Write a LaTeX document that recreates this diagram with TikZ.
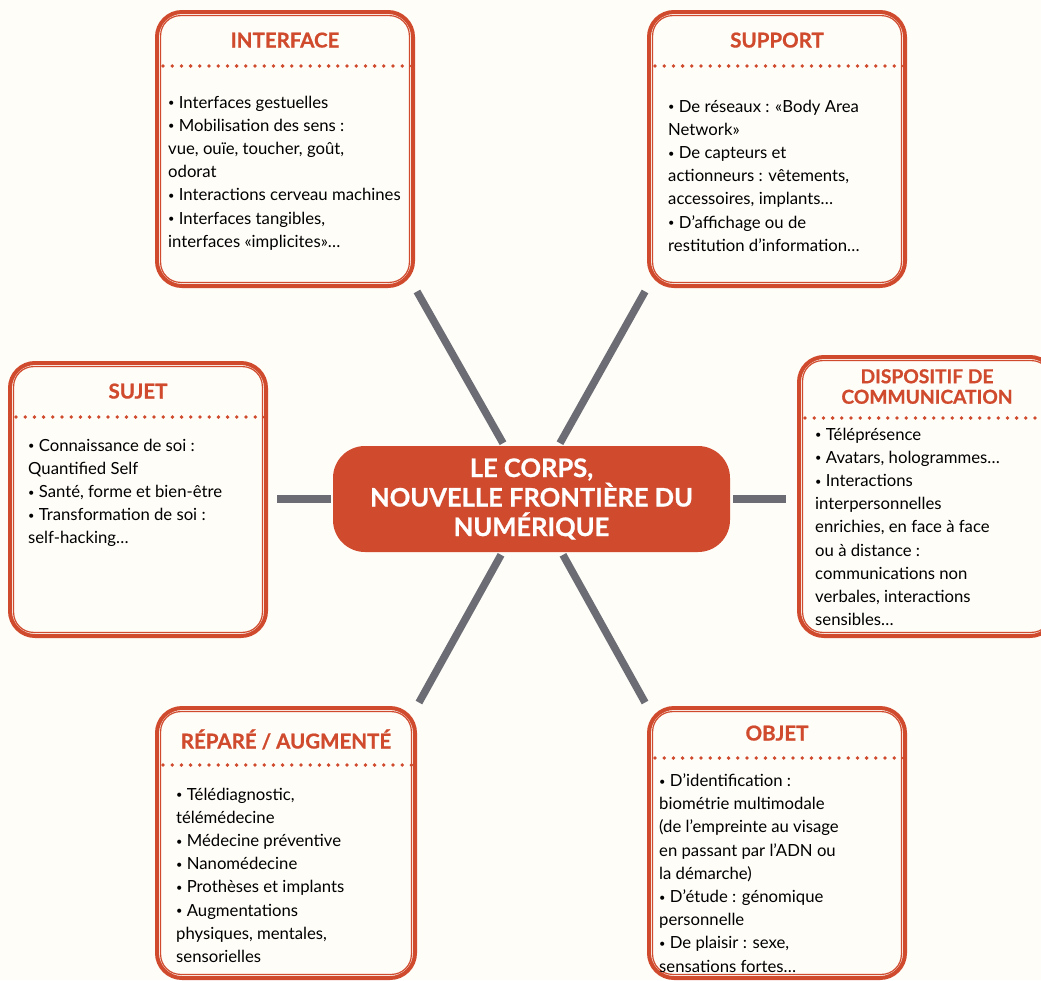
\documentclass[tikz,border=0pt]{standalone}
\usepackage{fontspec}
\setmainfont{Lato}
\newfontfamily\grasfont{Lato}[BoldFeatures={FakeBold=0.8}]
\usetikzlibrary{positioning,calc}
\definecolor{CorpsRouge}{RGB}{208,74,45}
\definecolor{CorpsGris}{RGB}{108,108,116}
\definecolor{CorpsFond}{RGB}{254,253,248}
\newcommand\puce{\raisebox{1.3pt}{\fontsize{11}{11}\selectfont •}}

\begin{document}
\begin{tikzpicture}[x=1pt, y=1pt]
\tikzset{
  boite/.style={
    shape=rectangle,
    draw=CorpsRouge,
    line width=4pt,
    rounded corners=25pt,
    minimum width=256pt,
    minimum height=274pt,
    inner sep=0pt
  },
  boiteint/.style={draw=CorpsRouge, line width=1.2pt, rounded corners=20pt},
  pointille/.style={
    draw=CorpsRouge,
    line width=3.8pt,
    line cap=round,
    dash pattern=on 0pt off 9.2pt
  },
  titre/.style={
    inner sep=0pt,
    align=center,
    text=CorpsRouge,
    font=\fontsize{20.5}{20.5}\grasfont\bfseries
  },
  corps/.style={
    inner sep=0pt,
    align=left,
    anchor=north west,
    text=black,
    font=\fontsize{16.7}{23.2}\selectfont
  },
  centre/.style={
    shape=rectangle,
    fill=CorpsRouge,
    rounded corners=32pt,
    minimum width=397pt,
    minimum height=106pt,
    align=center,
    text=white,
    font=\fontsize{25.5}{29.5}\grasfont\bfseries
  },
  lien/.style={draw=CorpsGris, line width=7.5pt}
}

% fond et cadre
\fill[CorpsFond] (0,0) rectangle (1041,-980);
\useasboundingbox (0,0) rectangle (1041,-980);

% noeud central
\node[centre] (corps) at (531.5,-499) {LE CORPS,\\NOUVELLE FRONTIÈRE DU\\NUMÉRIQUE};

% boites
\node[boite] (interface) at (285,-149) {};
\node[boite] (support) at (777,-149) {};
\node[boite, minimum height=273pt] (sujet) at (138,-499.5) {};
\node[boite, minimum height=279pt] (dispositif) at (927,-496.5) {};
\node[boite, minimum width=258pt, minimum height=270pt] (repare) at (286,-843) {};
\node[boite, minimum height=270pt] (objet) at (777,-843) {};

\foreach \b/\d in {interface/56, support/56, sujet/56, dispositif/63, repare/59, objet/52} {
  \draw[boiteint] ([shift={(5.6,-5.6)}]\b.north west) rectangle ([shift={(-5.6,5.6)}]\b.south east);
  \draw[pointille] ([shift={(8,-\d)}]\b.north west) -- ([shift={(-3,-\d)}]\b.north east);
}

% titres
\node[titre, anchor=base] (interface-titre) at ([yshift=-37.5pt]interface.north) {INTERFACE};
\node[titre, anchor=base] (support-titre) at ([yshift=-37.5pt]support.north) {SUPPORT};
\node[titre, anchor=base] (sujet-titre) at ([yshift=-37.5pt]sujet.north) {SUJET};
\node[titre, anchor=north, font=\fontsize{19.2}{20.5}\grasfont\bfseries] (dispositif-titre) at ([yshift=-14pt]dispositif.north) {DISPOSITIF DE\\COMMUNICATION};
\node[titre, anchor=base] (repare-titre) at ([yshift=-42.5pt]repare.north) {RÉPARÉ / AUGMENTÉ};
\node[titre, anchor=base] (objet-titre) at ([yshift=-34.5pt]objet.north) {OBJET};

% textes
\node[corps] (interface-texte) at (168,-95.5) {\puce{} Interfaces gestuelles\\\puce{} Mobilisation des sens :\\vue, ouïe, toucher, goût,\\odorat\\\puce{} Interactions cerveau machines\\\puce{} Interfaces tangibles,\\interfaces «implicites»…};
\node[corps] (support-texte) at (668,-99.5) {\puce{} De réseaux : «Body Area\\Network»\\\puce{} De capteurs et\\actionneurs : vêtements,\\accessoires, implants…\\\puce{} D’affichage ou de\\restitution d’information…};
\node[corps] (sujet-texte) at (28,-438.5) {\puce{} Connaissance de soi :\\Quantified Self\\\puce{} Santé, forme et bien-être\\\puce{} Transformation de soi :\\self-hacking…};
\node[corps] (dispositif-texte) at (815,-427.5) {\puce{} Téléprésence\\\puce{} Avatars, hologrammes…\\\puce{} Interactions\\interpersonnelles\\enrichies, en face à face\\ou à distance :\\communications non\\verbales, interactions\\sensibles…};
\node[corps] (repare-texte) at (176,-787.5) {\puce{} Télédiagnostic,\\télémédecine\\\puce{} Médecine préventive\\\puce{} Nanomédecine\\\puce{} Prothèses et implants\\\puce{} Augmentations\\physiques, mentales,\\sensorielles};
\node[corps] (objet-texte) at (659,-773.5) {\puce{} D’identification :\\biométrie multimodale\\(de l’empreinte au visage\\en passant par l’ADN ou\\la démarche)\\\puce{} D’étude : génomique\\personnelle\\\puce{} De plaisir : sexe,\\sensations fortes…};

% liens
\draw[lien, shorten <=4pt, shorten >=3pt] (interface.south east) -- ([xshift=-27pt]corps.north);
\draw[lien, shorten <=4pt, shorten >=3pt] (support.south west) -- ([xshift=27pt]corps.north);
\draw[lien, shorten <=9pt, shorten >=2pt] (sujet.east |- corps.west) -- (corps.west);
\draw[lien, shorten <=3pt, shorten >=11pt] (corps.east) -- (corps.east -| dispositif.west);
\draw[lien, shorten <=3pt, shorten >=4pt] ([xshift=-29pt]corps.south) -- (repare.north east);
\draw[lien, shorten <=3pt, shorten >=4pt] ([xshift=30pt]corps.south) -- (objet.north west);
\end{tikzpicture}
\end{document}
